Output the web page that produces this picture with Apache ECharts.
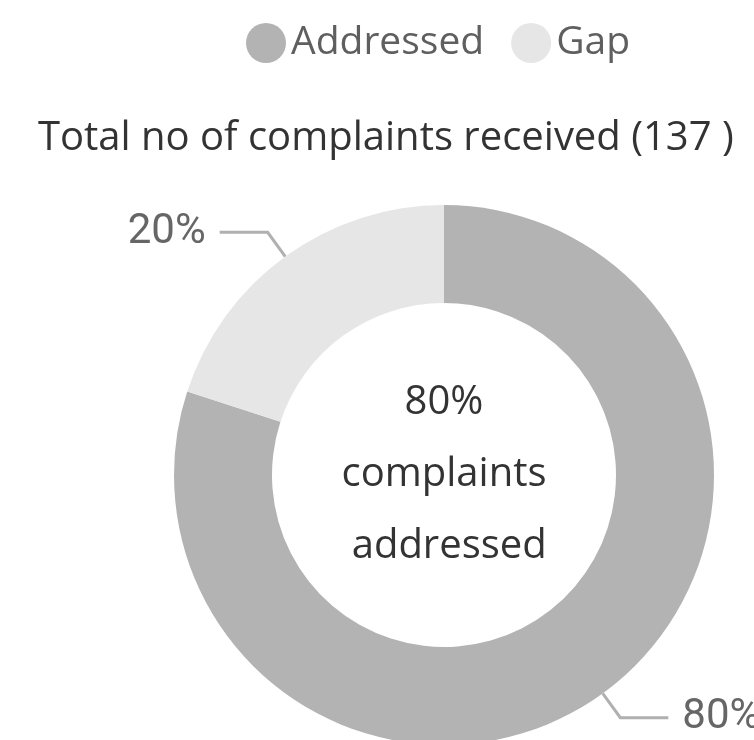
<!DOCTYPE html>
<html>
<head>
<meta charset="utf-8">
<script src="https://cdn.jsdelivr.net/npm/echarts@6/dist/echarts.min.js"></script>
<style>
  html, body { margin: 0; padding: 0; background: #fff; }
  #chart { width: 754px; height: 740px; }
</style>
</head>
<body>
<div id="chart"></div>
<script>
// complaints donut
const categories = ['Addressed', 'Gap'];
const shares = [80, 20];
const totalReceived = [137];
const colors = ['#b3b3b3', '#e6e6e6'];

const font = '"Open Sans", "Noto Sans", sans-serif';
const chart = echarts.init(document.getElementById('chart'));

const option = {
  backgroundColor: '#fff',
  color: colors,
  legend: {
    data: categories,
    left: 241,
    top: 18,
    icon: 'circle',
    itemWidth: 40,
    itemHeight: 40,
    itemGap: 27,
    textStyle: { fontFamily: font, fontSize: 39, color: '#5f5f5f' }
  },
  title: {
    text: 'Total no of complaints received (' + totalReceived[0] + ' )',
    left: 33,
    top: 114,
    textStyle: { fontFamily: font, fontSize: 40, fontWeight: 'normal', color: '#333' }
  },
  graphic: [{
    type: 'text',
    x: 444,
    y: 475,
    z: 100,
    style: {
      text: shares[0] + '%\ncomplaints\n addressed',
      align: 'center',
      verticalAlign: 'middle',
      fontFamily: font,
      fontSize: 40,
      lineHeight: 72,
      fill: '#333'
    }
  }],
  series: [{
    type: 'pie',
    center: [444, 475],
    radius: [172, 270],
    startAngle: 90,
    silent: true,
    label: {
      formatter: '{d}%',
      fontFamily: 'Roboto, sans-serif',
      fontSize: 42,
      color: '#666',
      overflow: 'none',
      distanceToLabelLine: 14
    },
    labelLine: {
      length: 30,
      length2: 48,
      lineStyle: { color: '#b0b0b0', width: 3 }
    },
    data: categories.map((name, i) => ({ name: name, value: shares[i] }))
  }]
};

chart.setOption(option);
</script>
</body>
</html>
